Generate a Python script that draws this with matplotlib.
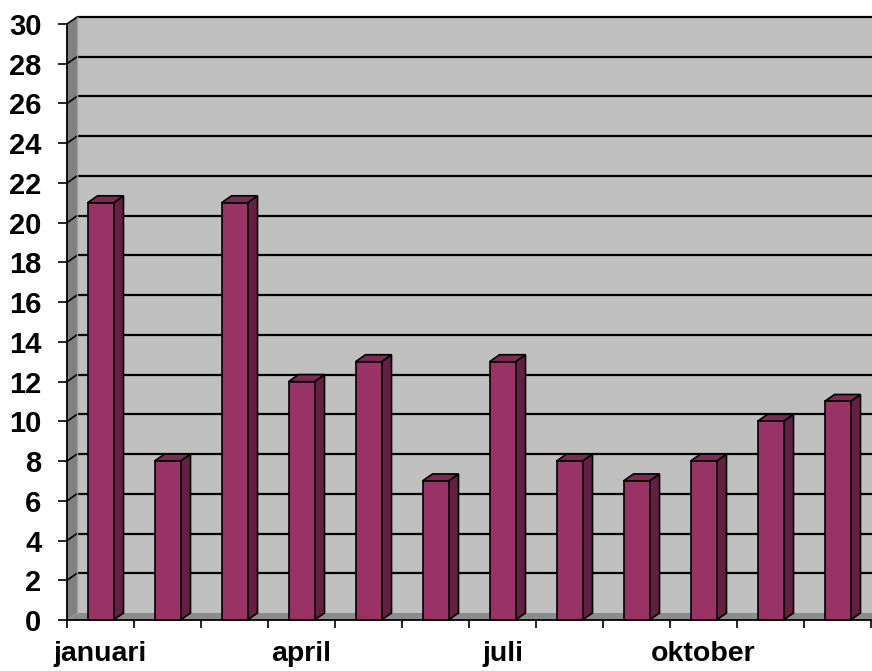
import numpy as np
import matplotlib.pyplot as plt
from matplotlib.patches import Polygon, Rectangle

plt.rcParams['font.family'] = ['Liberation Sans', 'DejaVu Sans']

months = ['januari', 'februari', 'maart', 'april', 'mei', 'juni',
          'juli', 'augustus', 'september', 'oktober', 'november', 'december']
values = [21, 8, 21, 12, 13, 7, 13, 8, 7, 8, 10, 11]
yticks = list(range(0, 31, 2))
shown = ['januari', 'april', 'juli', 'oktober']

W, H = 872, 671
fig = plt.figure(figsize=(W / 100, H / 100), dpi=100)
ax = fig.add_axes([67 / W, (H - 620) / H, (871 - 67) / W, (620 - 24) / H])
ax.set_xlim(0, len(months))
ax.set_ylim(0, 30)

# 3d depth offsets in data units (about 10 px right, 7 px up)
dx = 10 / 67
dy = 7 / ((620 - 24) / 30)

wall = '#c0c0c0'
side = '#808080'
# back wall
ax.add_patch(Rectangle((dx, dy), len(months) + 1, 30, facecolor=wall,
                       edgecolor='none', zorder=0, clip_on=False))
# left wall
ax.add_patch(Polygon([(0, 0), (dx, dy), (dx, 30 + dy), (0, 30)],
                     closed=True, facecolor=side, edgecolor='none',
                     zorder=0.5, clip_on=False))
# floor
ax.add_patch(Polygon([(0, 0), (len(months) + 1, 0), (len(months) + 1 + dx, dy), (dx, dy)],
                     closed=True, facecolor='#8c8c8c', edgecolor='none',
                     zorder=0.5, clip_on=False))

# gridlines on back wall and left wall
for v in yticks[1:]:
    ax.plot([dx, len(months) + 1], [v + dy, v + dy], color='black', lw=1.6,
            zorder=1, clip_on=False, solid_capstyle='butt')
    ax.plot([0, dx], [v, v + dy], color='black', lw=1.2, zorder=1, clip_on=False)
ax.plot([dx, dx], [dy, 30 + dy], color='#a0a0a0', lw=1, zorder=1, clip_on=False)

# bars
bw = 26 / 67
front = '#993366'
right = '#632040'
top = '#7d2a55'
for i, h in enumerate(values):
    x0 = i + 0.5 - bw / 2
    x1 = x0 + bw
    ax.add_patch(Polygon([(x1, 0), (x1 + dx, dy), (x1 + dx, h + dy), (x1, h)],
                         closed=True, facecolor=right, edgecolor='black',
                         lw=1.2, zorder=3, clip_on=False))
    ax.add_patch(Polygon([(x0, h), (x0 + dx, h + dy), (x1 + dx, h + dy), (x1, h)],
                         closed=True, facecolor=top, edgecolor='black',
                         lw=1.2, zorder=3, clip_on=False))
    ax.add_patch(Rectangle((x0, 0), bw, h, facecolor=front, edgecolor='black',
                           lw=1.2, zorder=4, clip_on=False))

ax.set_facecolor('none')
for s in ['top', 'right']:
    ax.spines[s].set_visible(False)
for s in ['left', 'bottom']:
    ax.spines[s].set_linewidth(1.3)
    ax.spines[s].set_zorder(5)

ax.set_yticks(yticks)
ax.set_yticklabels([str(v) for v in yticks], fontsize=21, fontweight='bold')
ax.tick_params(axis='y', length=6.5, width=1.2, pad=12)

ax.set_xticks(np.arange(len(months) + 1))
ax.set_xticklabels([])
ax.tick_params(axis='x', which='major', length=6, width=1.2)
ax.set_xticks([months.index(m) + 0.5 for m in shown], minor=True)
ax.set_xticklabels(shown, minor=True, fontsize=20.5, fontweight='bold')
ax.tick_params(axis='x', which='minor', length=0, pad=15)

fig.savefig('out.png', dpi=100)
